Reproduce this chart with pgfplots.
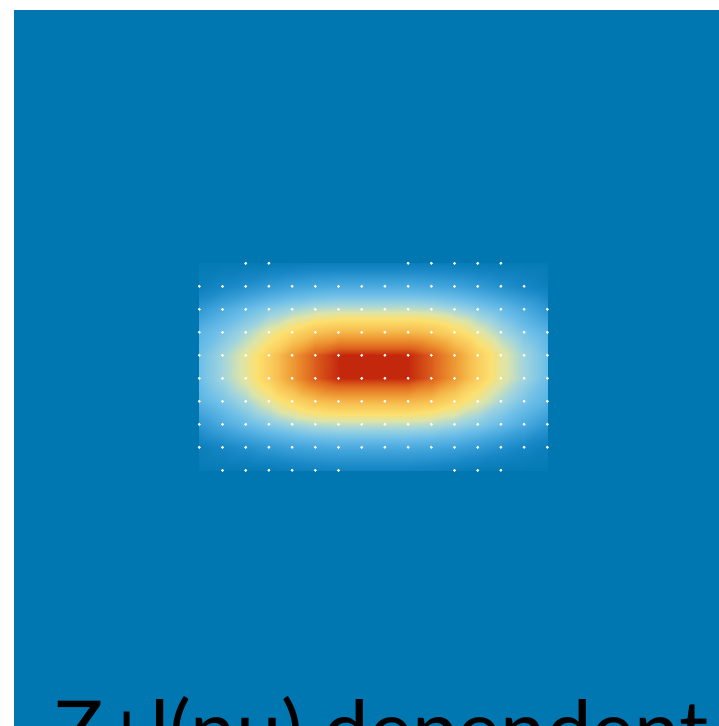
\documentclass[border=0pt]{standalone}
\usepackage{pgfplots}
\usepackage{pgfplotstable}
\usepackage{fontspec}
\setmainfont{Lato}
\pgfplotsset{compat=1.18}

\definecolor{bgblue}{RGB}{0,119,176}

% Field values on the sampling grid (c = column index, r = row index)
\pgfplotstableread{
c r v
0 0 0.02
1 0 0.02
2 0 0.02
3 0 0.03
4 0 0.04
5 0 0.05
6 0 0.05
7 0 0.05
8 0 0.05
9 0 0.05
10 0 0.05
11 0 0.04
12 0 0.03
13 0 0.02
14 0 0.02
15 0 0.02
0 1 0.05
1 1 0.09
2 1 0.13
3 1 0.17
4 1 0.20
5 1 0.22
6 1 0.23
7 1 0.23
8 1 0.23
9 1 0.23
10 1 0.22
11 1 0.20
12 1 0.17
13 1 0.13
14 1 0.09
15 1 0.05
0 2 0.16
1 2 0.23
2 2 0.29
3 2 0.34
4 2 0.38
5 2 0.41
6 2 0.42
7 2 0.42
8 2 0.42
9 2 0.42
10 2 0.41
11 2 0.38
12 2 0.34
13 2 0.29
14 2 0.23
15 2 0.16
0 3 0.26
1 3 0.32
2 3 0.39
3 3 0.47
4 3 0.55
5 3 0.62
6 3 0.65
7 3 0.65
8 3 0.65
9 3 0.65
10 3 0.62
11 3 0.55
12 3 0.47
13 3 0.39
14 3 0.32
15 3 0.26
0 4 0.30
1 4 0.38
2 4 0.47
3 4 0.58
4 4 0.71
5 4 0.83
6 4 0.90
7 4 0.90
8 4 0.90
9 4 0.90
10 4 0.83
11 4 0.71
12 4 0.58
13 4 0.47
14 4 0.38
15 4 0.30
0 5 0.30
1 5 0.38
2 5 0.47
3 5 0.58
4 5 0.71
5 5 0.83
6 5 0.90
7 5 0.90
8 5 0.90
9 5 0.90
10 5 0.83
11 5 0.71
12 5 0.58
13 5 0.47
14 5 0.38
15 5 0.30
0 6 0.26
1 6 0.32
2 6 0.39
3 6 0.47
4 6 0.55
5 6 0.62
6 6 0.65
7 6 0.65
8 6 0.65
9 6 0.65
10 6 0.62
11 6 0.55
12 6 0.47
13 6 0.39
14 6 0.32
15 6 0.26
0 7 0.16
1 7 0.23
2 7 0.29
3 7 0.34
4 7 0.38
5 7 0.41
6 7 0.42
7 7 0.42
8 7 0.42
9 7 0.42
10 7 0.41
11 7 0.38
12 7 0.34
13 7 0.29
14 7 0.23
15 7 0.16
0 8 0.05
1 8 0.09
2 8 0.13
3 8 0.17
4 8 0.20
5 8 0.22
6 8 0.23
7 8 0.23
8 8 0.23
9 8 0.23
10 8 0.22
11 8 0.20
12 8 0.17
13 8 0.13
14 8 0.09
15 8 0.05
0 9 0.02
1 9 0.02
2 9 0.02
3 9 0.03
4 9 0.05
5 9 0.07
6 9 0.08
7 9 0.08
8 9 0.08
9 9 0.08
10 9 0.07
11 9 0.05
12 9 0.03
13 9 0.02
14 9 0.02
15 9 0.02
}\fieldtable

% Sample positions shown as dots
\pgfplotstableread{
c r
2 0
3 0
9 0
10 0
11 0
12 0
13 0
0 1
1 1
2 1
3 1
4 1
5 1
6 1
7 1
8 1
9 1
10 1
11 1
12 1
13 1
14 1
0 2
1 2
2 2
3 2
4 2
5 2
6 2
7 2
8 2
9 2
10 2
11 2
12 2
13 2
14 2
15 2
0 3
1 3
2 3
3 3
4 3
5 3
6 3
7 3
8 3
9 3
10 3
11 3
12 3
13 3
14 3
15 3
0 4
1 4
2 4
3 4
4 4
5 4
6 4
7 4
8 4
9 4
10 4
11 4
12 4
13 4
14 4
15 4
0 5
1 5
2 5
3 5
4 5
5 5
6 5
7 5
8 5
9 5
10 5
11 5
12 5
13 5
14 5
15 5
0 6
1 6
2 6
3 6
4 6
5 6
6 6
7 6
8 6
9 6
10 6
11 6
12 6
13 6
14 6
15 6
0 7
1 7
2 7
3 7
4 7
5 7
6 7
7 7
8 7
9 7
10 7
11 7
12 7
13 7
14 7
15 7
0 8
1 8
2 8
3 8
4 8
5 8
6 8
7 8
8 8
9 8
10 8
11 8
12 8
13 8
14 8
15 8
1 9
2 9
3 9
4 9
5 9
6 9
11 9
12 9
13 9
}\dottable

\begin{document}
\begin{tikzpicture}
\begin{axis}[
  x=0.3mm, y=0.3mm, y dir=reverse,
  xmin=14, xmax=760, ymin=10, ymax=800,
  ticks=none,
  axis line style={draw=none},
  axis background/.style={fill=bgblue},
  colormap={field}{
    rgb255(0cm)=(0,119,176);
    rgb255(10cm)=(24,136,198);
    rgb255(20cm)=(62,162,218);
    rgb255(30cm)=(108,190,232);
    rgb255(38cm)=(160,212,222);
    rgb255(45cm)=(220,228,170);
    rgb255(52cm)=(252,224,112);
    rgb255(62cm)=(247,194,82);
    rgb255(72cm)=(238,150,50);
    rgb255(82cm)=(222,100,30);
    rgb255(90cm)=(196,40,12)
  },
  point meta min=0, point meta max=0.9,
]
\addplot[surf, shader=interp, mesh/ordering=x varies, mesh/cols=16,
  point meta=explicit]
  table[x expr={199.3+23.2*\thisrow{c}}, y expr={263.3+23*\thisrow{r}}, meta=v]
  {\fieldtable};
\addplot[white, only marks, mark=*, mark size=0.35mm, point meta=none]
  table[x expr={199.3+23.2*\thisrow{c}}, y expr={263.3+23*\thisrow{r}}]
  {\dottable};
\coordinate (pic tl) at (axis cs:0,0);
\coordinate (pic br) at (axis cs:718,726);
\coordinate (title) at (axis cs:54,759);
\end{axis}
\node[anchor=base west, inner sep=0pt, font=\fontsize{69.5}{72}\selectfont]
  at (title) {Z+l(nu) dependent};
\pgfresetboundingbox
\path[use as bounding box] (pic tl) rectangle (pic br);
\end{tikzpicture}
\end{document}
